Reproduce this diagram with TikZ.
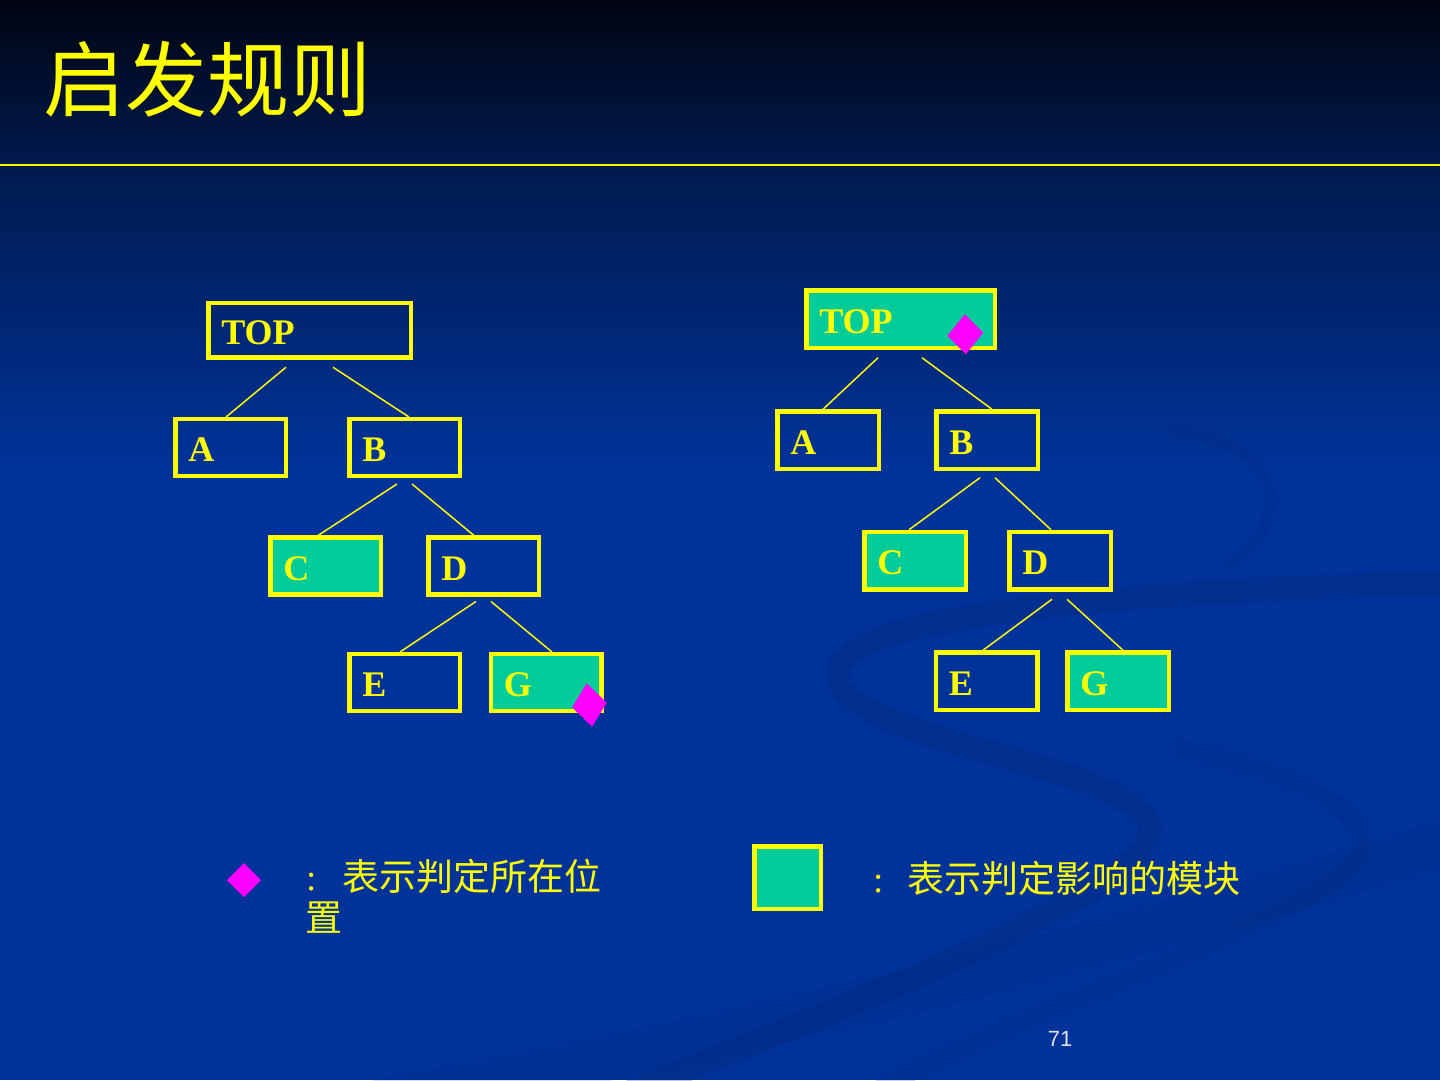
\documentclass[tikz,border=0pt]{standalone}
\usepackage{fontspec}
\setmainfont{Liberation Serif}
\newfontfamily\cjk{Noto Sans CJK SC}
\newfontfamily\pgsans{Liberation Sans}
\usetikzlibrary{calc}
\definecolor{bgblue}{RGB}{0,51,153}
\definecolor{hdtop}{RGB}{0,4,16}
\definecolor{hdbot}{RGB}{0,26,78}
\definecolor{yel}{RGB}{255,255,0}
\definecolor{tealfill}{RGB}{0,204,153}
\definecolor{mag}{RGB}{255,0,255}
\definecolor{swoosh}{RGB}{0,36,120}
\definecolor{pgnum}{RGB}{225,225,240}
\begin{document}
\begin{tikzpicture}[x=1pt,y=-1pt,
  box/.style={draw=yel, line width=4.5pt, outer sep=0pt, inner xsep=13pt, inner ysep=0pt,
    text=yel, font=\fontsize{36}{40}\selectfont\bfseries, text height=28pt, text depth=0pt, align=left},
  lbig/.style={box, minimum height=54.5pt, text width=176.5pt},
  lsmall/.style={box, minimum height=57pt, text width=84.5pt},
  rbig/.style={box, minimum height=57.5pt, text width=162.5pt},
  rsmall/.style={box, minimum height=57.5pt, text width=75.5pt},
  hit/.style={fill=tealfill},
  conn/.style={draw=yel, line width=1.5pt},
  legtext/.style={text=yel, font=\fontsize{37}{40}\selectfont, inner sep=0pt, anchor=base west},
  band/.style={draw=swoosh, line cap=butt}
]
\useasboundingbox (0,0) rectangle (1440,1080);
\clip (0,0) rectangle (1440,1080);
% background
\fill[bgblue] (0,0) rectangle (1440,1080);
\shade[top color=hdtop, bottom color=hdbot] (0,0) rectangle (1440,165);
\shade[top color=hdbot, bottom color=bgblue] (0,165) rectangle (1440,470);
% swooshes
\draw[band, line width=24pt, opacity=.26]
  (1470,582) .. controls (1150,590) and (830,612) .. (838,676)
  .. controls (846,742) and (1120,762) .. (1148,822)
  .. controls (1172,880) and (900,985) .. (610,1100);
\draw[band, line width=18pt, opacity=.2]
  (1175,748) .. controls (1300,772) and (1405,822) .. (1345,872)
  .. controls (1255,942) and (1010,1012) .. (860,1100);
\draw[band, line width=44pt, opacity=.16]
  (1470,835) .. controls (1100,950) and (700,1050) .. (330,1110);
\draw[band, line width=12pt, opacity=.16]
  (1170,432) .. controls (1285,440) and (1300,520) .. (1225,568);
\draw[yel, line width=2pt] (0,165) -- (1440,165);
% title
\node[anchor=base west, inner sep=0pt, text=yel, font=\cjk\fontsize{82}{90}\selectfont] (title) at (43,110) {启发规则};
% left tree
\node[lbig] (LTOP) at (309.5,330) {TOP};
\node[lsmall] (LA) at (230.5,447.5) {A};
\node[lsmall] (LB) at (404.5,447.5) {B};
\node[lsmall, hit] (LC) at (325.5,566) {C};
\node[lsmall] (LD) at (483.5,566) {D};
\node[lsmall] (LE) at (404.5,682.5) {E};
\node[lsmall, hit] (LG) at (546,682.5) {G};
\draw[conn] ($(LTOP.south)+(-23.5,10)$) -- ($(LA.north)+(-4.5,-2)$);
\draw[conn] ($(LTOP.south)+(23.5,10)$) -- ($(LB.north)+(4.5,-2)$);
\draw[conn] ($(LB.south)+(-7.5,8)$) -- ($(LC.north)+(-7.5,-2)$);
\draw[conn] ($(LB.south)+(7.5,8)$) -- ($(LD.north)+(-9.5,-2)$);
\draw[conn] ($(LD.south)+(-7.5,7)$) -- ($(LE.north)+(-4.5,-2)$);
\draw[conn] ($(LD.south)+(7.5,7)$) -- ($(LG.north)+(6,-2)$);
% right tree
\node[rbig, hit] (RTOP) at (900.5,319) {TOP};
\node[rsmall] (RA) at (828,440) {A};
\node[rsmall] (RB) at (987,440) {B};
\node[rsmall, hit] (RC) at (915,560.5) {C};
\node[rsmall] (RD) at (1060,560.5) {D};
\node[rsmall] (RE) at (986.5,681) {E};
\node[rsmall, hit] (RG) at (1118,681) {G};
\draw[conn] ($(RTOP.south)+(-22.5,10)$) -- ($(RA.north)+(-5,-2)$);
\draw[conn] ($(RTOP.south)+(21.5,10)$) -- ($(RB.north)+(5,-2)$);
\draw[conn] ($(RB.south)+(-7,9)$) -- ($(RC.north)+(-6,-2)$);
\draw[conn] ($(RB.south)+(8,9)$) -- ($(RD.north)+(-9,-2)$);
\draw[conn] ($(RD.south)+(-8,10)$) -- ($(RE.north)+(-3.5,-2)$);
\draw[conn] ($(RD.south)+(7,10)$) -- ($(RG.north)+(5,-2)$);
% decision markers
\coordinate (dL) at (589.4,705);
\fill[mag] ($(dL)+(-2.7,-21.7)$) -- ($(dL)+(17.3,-2.3)$) -- ($(dL)+(2.7,21.7)$) -- ($(dL)+(-17.3,2.3)$) -- cycle;
\coordinate (dR) at (965.3,334.3);
\fill[mag] ($(dR)+(-0.5,-20)$) -- ($(dR)+(18,-1.5)$) -- ($(dR)+(0.5,20)$) -- ($(dR)+(-18,1.5)$) -- cycle;
% legend
\coordinate (dLeg) at (244,880);
\fill[mag] ($(dLeg)+(0,-17)$) -- ($(dLeg)+(17,0)$) -- ($(dLeg)+(0,17)$) -- ($(dLeg)+(-17,0)$) -- cycle;
\node[legtext] (leg1) at (306,890) {:\hspace{26pt}{\cjk 表示判定所在位}};
\node[legtext] (leg1b) at (305,931) {\cjk 置};
\node[draw=yel, line width=4.5pt, fill=tealfill, minimum width=66.5pt, minimum height=62.5pt, inner sep=0pt, outer sep=0pt] (legbox) at (787.5,877.5) {};
\node[legtext] (leg2) at (873,892) {:\hspace{24pt}{\cjk 表示判定影响的模块}};
% page number
\node[text=pgnum, font=\pgsans\fontsize{22}{24}\selectfont, inner sep=0pt] (pg) at (1060,1039) {71};
\end{tikzpicture}
\end{document}
